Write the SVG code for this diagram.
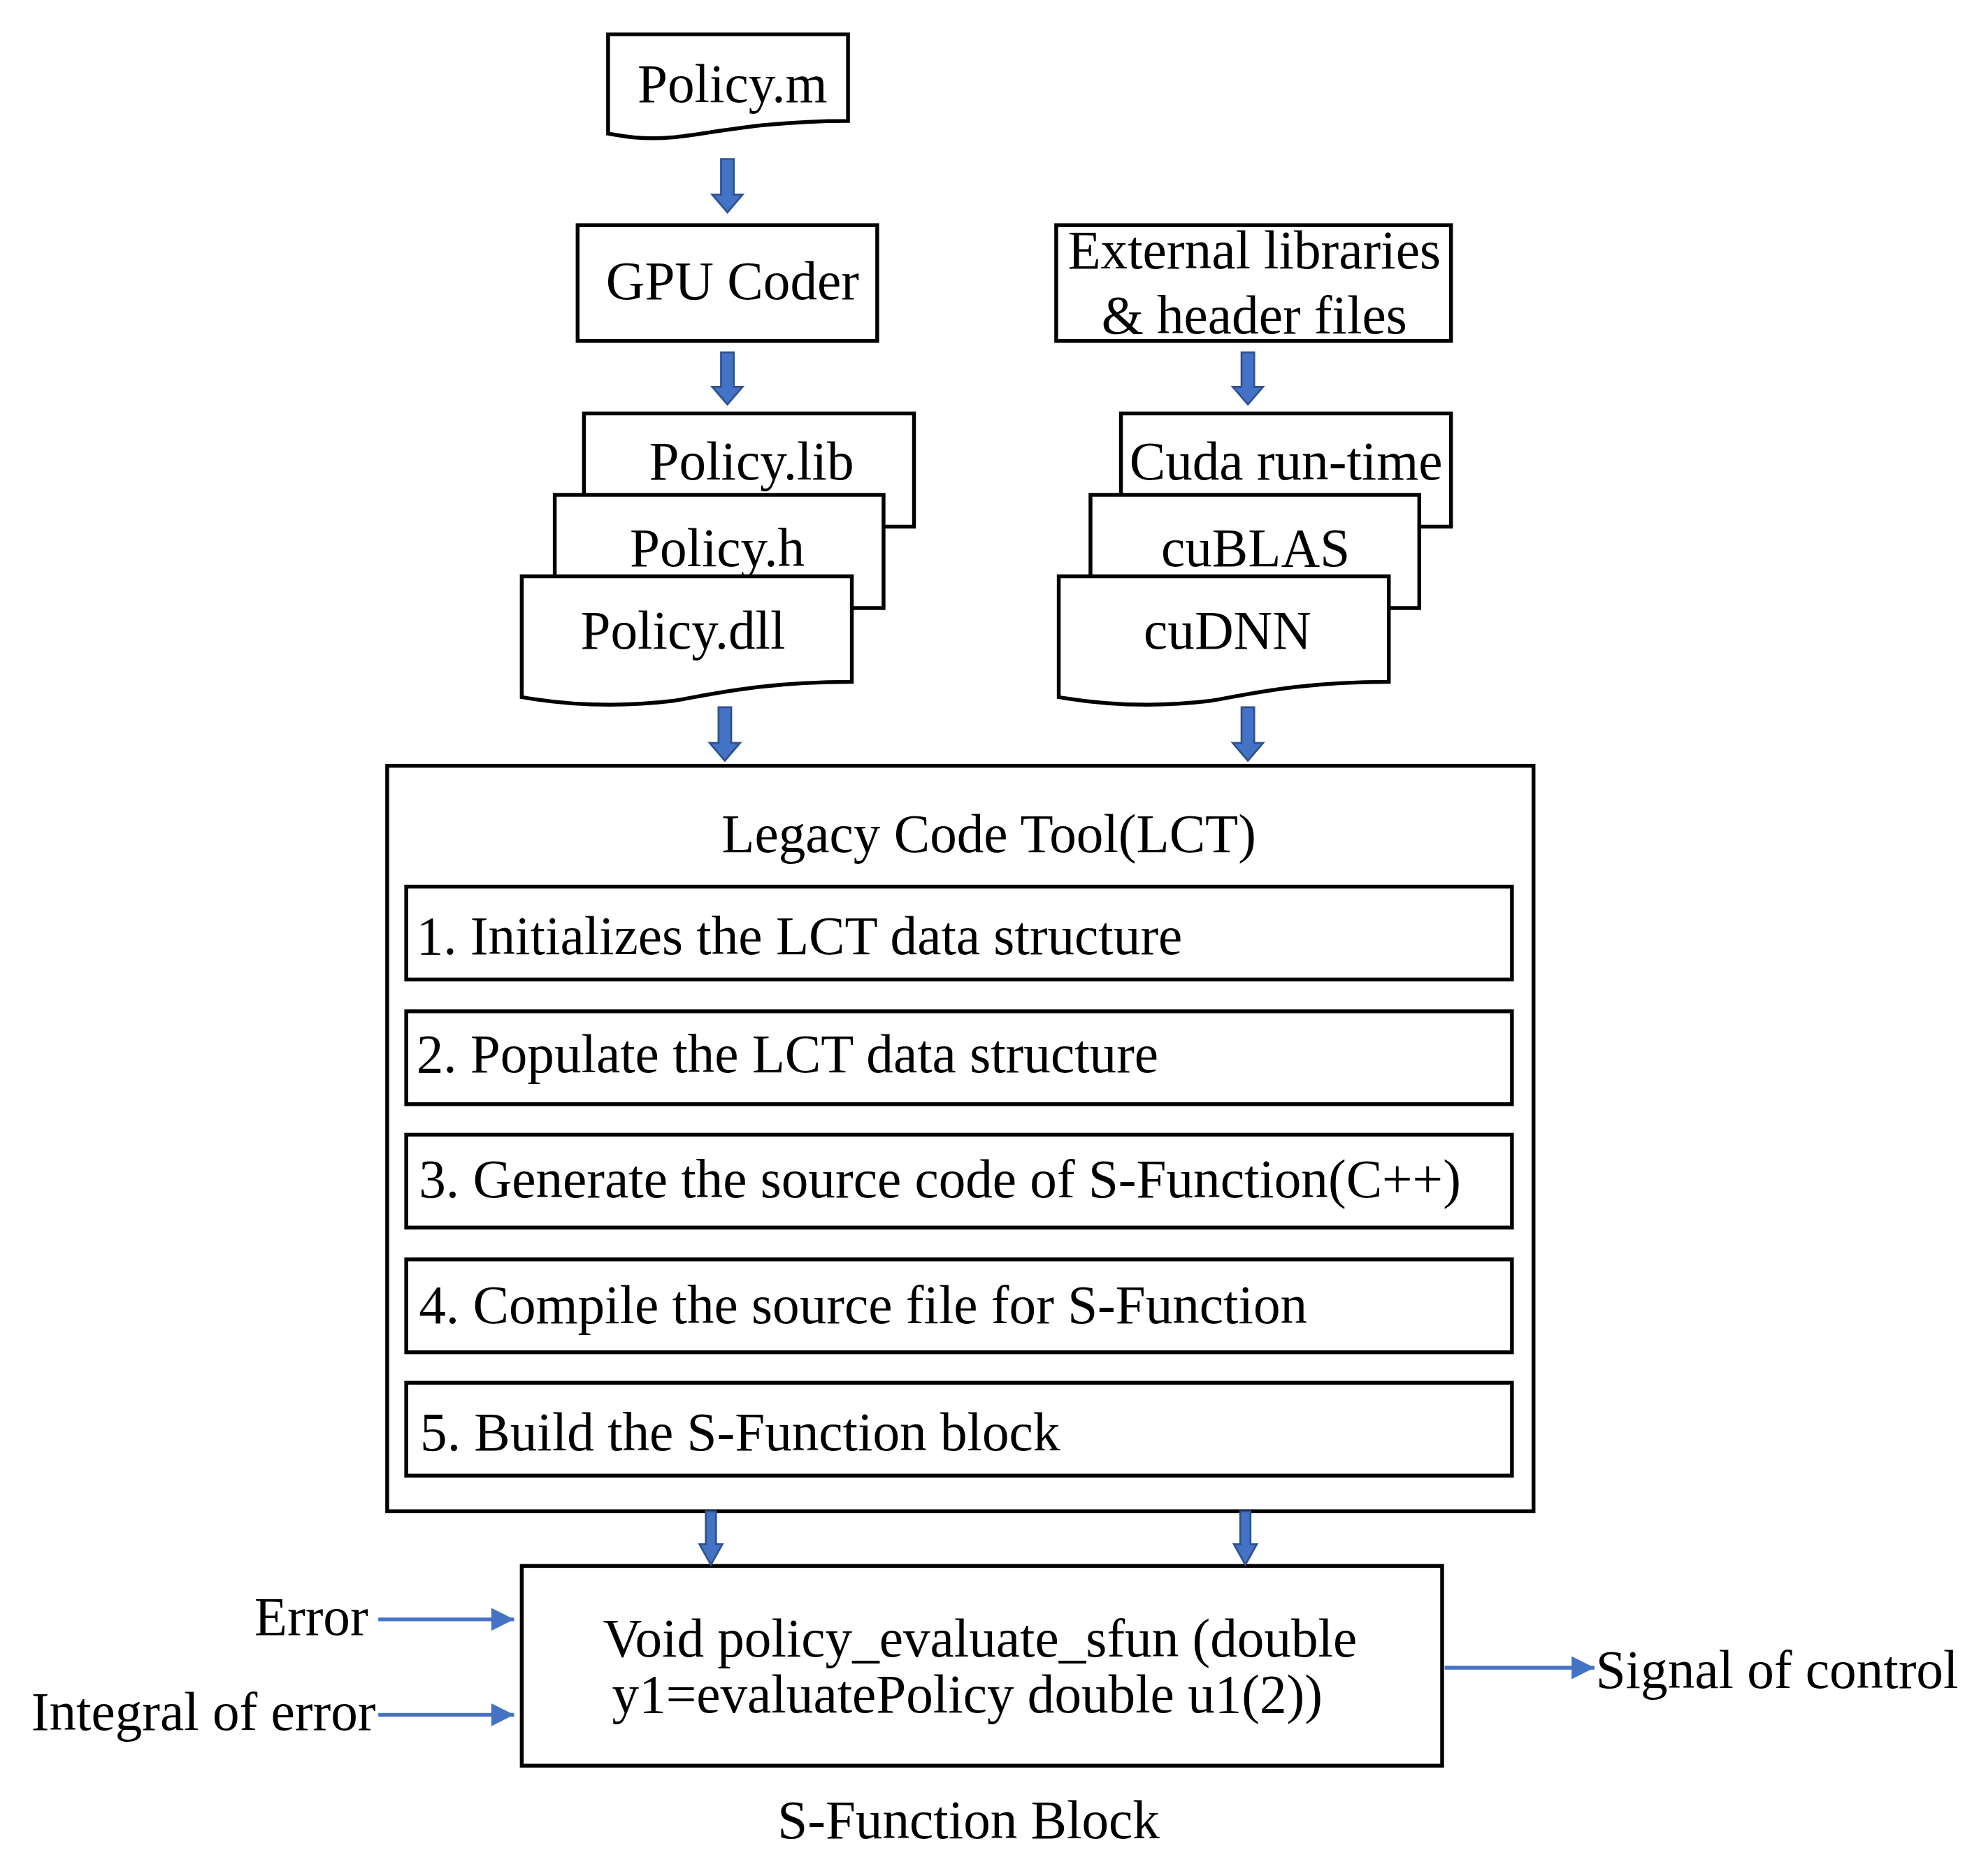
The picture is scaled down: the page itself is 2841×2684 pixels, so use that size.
<svg xmlns="http://www.w3.org/2000/svg" width="2841" height="2684" viewBox="0 0 2841 2684">
<defs>
<style>
.b{fill:#fff;stroke:#000;stroke-width:3}
.t{font-family:"Liberation Serif","Times New Roman",serif;font-size:42.5px;fill:#000}
.m{text-anchor:middle}
.ba{fill:#4472c4;stroke:#2f528f;stroke-width:1.5}
.ln{stroke:#4472c4;stroke-width:3;fill:none}
</style>
<marker id="ah2" viewBox="0 0 10 10" refX="10" refY="5" markerWidth="7" markerHeight="6" orient="auto"><path d="M0,0 L10,5 L0,10 z" fill="#4472c4"/></marker>
</defs>
<rect width="2841" height="2684" fill="#fff"/>
<g transform="scale(1.8160,1.8200)">
<g id="policy_m"><path class="b" d="M479,27 H668 V95 C600,95 560,105 530,108 C505,110 490,107 479,105 Z"/><text class="t m" x="577" y="80">Policy.m</text></g>
<g id="gpu_coder"><rect class="b" x="455" y="177" width="236" height="91"/><text class="t m" x="577" y="235">GPU Coder</text></g>
<g id="ext_libs"><rect class="b" x="832" y="177" width="311" height="91"/><text class="t m" x="988" y="211">External libraries</text><text class="t m" x="988" y="262">&amp; header files</text></g>
<g id="policy_lib"><rect class="b" x="460" y="325" width="260" height="89"/><text class="t m" x="592" y="377">Policy.lib</text></g>
<g id="policy_h"><rect class="b" x="437" y="389" width="259" height="89"/><text class="t m" x="565" y="445">Policy.h</text></g>
<g id="policy_dll"><path class="b" d="M411,453 H671 V536 C600,536 560,546 530,551 C480,557 440,553 411,548 Z"/><text class="t m" x="538" y="510">Policy.dll</text></g>
<g id="cuda"><rect class="b" x="883" y="325" width="260" height="89"/><text class="t m" x="1013" y="377">Cuda run-time</text></g>
<g id="cublas"><rect class="b" x="859" y="389" width="259" height="89"/><text class="t m" x="989" y="445">cuBLAS</text></g>
<g id="cudnn"><path class="b" d="M834,453 H1094 V536 C1023,536 983,546 953,551 C903,557 863,553 834,548 Z"/><text class="t m" x="967" y="510">cuDNN</text></g>
<g id="lct"><rect class="b" x="305" y="602" width="903" height="586"/><text class="t m" x="779" y="670">Legacy Code Tool(LCT)</text>
<rect class="b" x="320" y="697" width="871" height="73"/><text class="t" x="328" y="750">1. Initializes the LCT data structure</text>
<rect class="b" x="320" y="795" width="871" height="73"/><text class="t" x="328" y="843">2. Populate the LCT data structure</text>
<rect class="b" x="320" y="892" width="871" height="73"/><text class="t" x="330" y="941">3. Generate the source code of S-Function(C++)</text>
<rect class="b" x="320" y="990" width="871" height="73"/><text class="t" x="330" y="1040">4. Compile the source file for S-Function</text>
<rect class="b" x="320" y="1087" width="871" height="73"/><text class="t" x="331" y="1140">5. Build the S-Function block</text></g>
<g id="sfun"><rect class="b" x="411" y="1231" width="725" height="157"/><text class="t m" x="772" y="1302">Void policy_evaluate_sfun (double</text><text class="t m" x="762" y="1346">y1=evaluatePolicy double u1(2))</text></g>
<g id="labels"><text class="t" x="290" y="1285" text-anchor="end">Error</text><text class="t" x="296" y="1360" text-anchor="end">Integral of error</text><text class="t" x="1257" y="1327">Signal of control</text><text class="t m" x="763" y="1445">S-Function Block</text></g>
<g id="connectors">
<path class="ba" d="M568,125 H578 V153 H585 L573,167 L561,153 H568 Z"/>
<path class="ba" d="M568,277 H578 V304 H585 L573,318 L561,304 H568 Z"/>
<path class="ba" d="M978,277 H988 V304 H995 L983,318 L971,304 H978 Z"/>
<path class="ba" d="M566,556 H576 V584 H583 L571,598 L559,584 H566 Z"/>
<path class="ba" d="M978,556 H988 V584 H995 L983,598 L971,584 H978 Z"/>
<path class="ba" d="M556,1188 H564 V1214 H569 L560,1230 L551,1214 H556 Z"/>
<path class="ba" d="M977,1188 H985 V1214 H990 L981,1230 L972,1214 H977 Z"/>
<line class="ln" x1="298" y1="1273" x2="405" y2="1273" marker-end="url(#ah2)"/>
<line class="ln" x1="298" y1="1348" x2="405" y2="1348" marker-end="url(#ah2)"/>
<line class="ln" x1="1138" y1="1311" x2="1256" y2="1311" marker-end="url(#ah2)"/>
</g>
</g>
</svg>
